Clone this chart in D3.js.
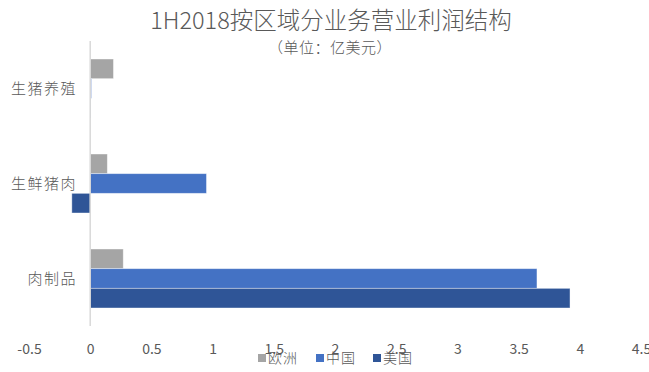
<!DOCTYPE html>
<html><head><meta charset="utf-8">
<script src="https://cdn.jsdelivr.net/npm/d3@7"></script>
<style>body{margin:0;background:#fff}svg{display:block}text{font-family:"Noto Sans CJK SC","Noto Sans",sans-serif}</style>
</head><body>
<svg id="c" width="649" height="372"></svg>
<script>
const categories = ["生猪养殖", "生鲜猪肉", "肉制品"];
const seriesNames = ["欧洲", "中国", "美国"];
const europe = [0.19, 0.14, 0.27];
const china = [0.01, 0.95, 3.65];
const usa = [0.006, -0.15, 3.92];
const tickValues = [-0.5, 0, 0.5, 1, 1.5, 2, 2.5, 3, 3.5, 4, 4.5];
const colors = ["#A5A5A5", "#4472C4", "#2F5597"];
const title = "1H2018按区域分业务营业利润结构";
const subtitle = "（单位：亿美元）";

const seriesVals = [europe, china, usa];
const svg = d3.select("#c");
const x = d3.scaleLinear().domain([-0.5, 4.5]).range([29, 641]);
const y = d3.scaleBand().domain(categories).range([41, 326]);
const inner = d3.scaleBand().domain(seriesNames).range([18, y.bandwidth() - 18]);

svg.append("text").attr("x", 331).attr("y", 29).attr("text-anchor", "middle")
  .attr("font-size", 23.5).attr("font-weight", 300).attr("fill", "#595959").text(title);
svg.append("text").attr("x", 330).attr("y", 53).attr("text-anchor", "middle")
  .attr("font-size", 15).attr("font-weight", 300).attr("letter-spacing", 0.5).attr("fill", "#595959").text(subtitle);

// bars
seriesNames.forEach((s, si) => {
  svg.append("g").selectAll("rect").data(categories).join("rect")
    .attr("x", (c, i) => x(Math.min(0, seriesVals[si][i])))
    .attr("width", (c, i) => Math.abs(x(seriesVals[si][i]) - x(0)))
    .attr("y", c => y(c) + inner(s))
    .attr("height", inner.bandwidth())
    .attr("fill", colors[si])
    .attr("stroke", "#ffffff").attr("stroke-opacity", 0.5).attr("stroke-width", 0.8);
});

// zero line
svg.append("line").attr("x1", x(0)).attr("x2", x(0)).attr("y1", 41).attr("y2", 326)
  .attr("stroke", "#d9d9d9").attr("stroke-width", 1.5);

// category labels
svg.append("g").selectAll("text").data(categories).join("text")
  .attr("x", 77).attr("y", c => y(c) + y.bandwidth() / 2 + 5)
  .attr("text-anchor", "end").attr("font-size", 15).attr("font-weight", 300)
  .attr("letter-spacing", 1.5).attr("fill", "#595959").text(d => d);

// x axis
const ax = svg.append("g").attr("transform", "translate(0,326)")
  .call(d3.axisBottom(x).tickValues(tickValues).tickSize(0).tickPadding(18).tickFormat(d => d3.format("")(d).replace("−", "-")));
ax.select(".domain").remove();
ax.selectAll("text").attr("font-size", 14).attr("fill", "#595959")
  .attr("font-family", "\"Noto Sans\",\"Noto Sans CJK SC\",sans-serif");

// legend
const lg = svg.append("g").attr("transform", "translate(258,363)");
const offs = [0, 58, 115];
seriesNames.forEach((s, i) => {
  lg.append("rect").attr("x", offs[i]).attr("y", -9).attr("width", 8).attr("height", 8).attr("fill", colors[i]);
  lg.append("text").attr("x", offs[i] + 10).attr("y", 0).attr("font-size", 14).attr("font-weight", 300)
    .attr("letter-spacing", 1).attr("fill", "#595959").text(s);
});
</script>
</body></html>
